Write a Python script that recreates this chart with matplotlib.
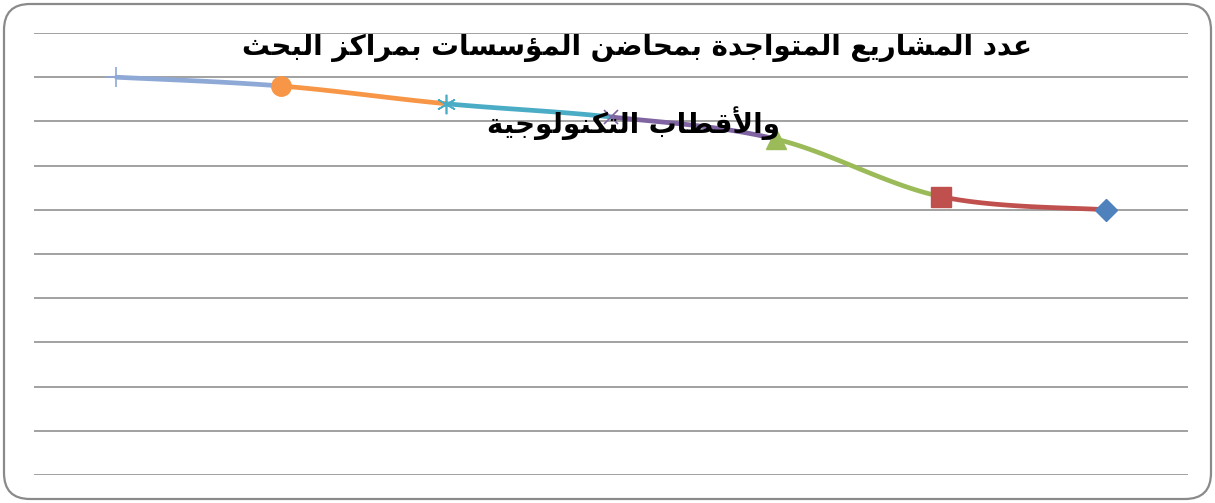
import numpy as np
import matplotlib
matplotlib.use("Agg")
from matplotlib import pyplot as plt
from matplotlib.patches import FancyBboxPatch
from matplotlib.transforms import IdentityTransform

# data: first category is drawn on the right (reversed category axis)
categories = [1, 2, 3, 4, 5, 6, 7]
values = [60, 63, 76, 81, 84, 88, 90]
colors = ["#4F81BD", "#C0504D", "#9BBB59", "#8064A2", "#4BACC6", "#F79646", "#8EA9D6"]
markers = ["D", "s", "^", "x", (6, 2, 0), "o", "+"]
marker_sizes = [11, 14, 14, 10, 14, 14, 14]

title_1 = "عدد المشاريع المتواجدة بمحاضن المؤسسات بمراكز البحث"
title_2 = "والأقطاب التكنولوجية"


# --- tiny Arabic shaper (matplotlib has no shaping) ---
dual = "ئبتثجحخسشصضطظعغفقكلمنهي"
right = "آأؤإاةدذرزوى"
base = {
    "ء": 0xFE80, "آ": 0xFE81, "أ": 0xFE83, "ؤ": 0xFE85, "إ": 0xFE87, "ئ": 0xFE89,
    "ا": 0xFE8D, "ب": 0xFE8F, "ة": 0xFE93, "ت": 0xFE95, "ث": 0xFE99, "ج": 0xFE9D,
    "ح": 0xFEA1, "خ": 0xFEA5, "د": 0xFEA9, "ذ": 0xFEAB, "ر": 0xFEAD, "ز": 0xFEAF,
    "س": 0xFEB1, "ش": 0xFEB5, "ص": 0xFEB9, "ض": 0xFEBD, "ط": 0xFEC1, "ظ": 0xFEC5,
    "ع": 0xFEC9, "غ": 0xFECD, "ف": 0xFED1, "ق": 0xFED5, "ك": 0xFED9, "ل": 0xFEDD,
    "م": 0xFEE1, "ن": 0xFEE5, "ه": 0xFEE9, "و": 0xFEED, "ى": 0xFEEF, "ي": 0xFEF1,
}
lam_alef = {"آ": 0xFEF5, "أ": 0xFEF7, "إ": 0xFEF9, "ا": 0xFEFB}


def shape(text):
    out = []
    i = 0
    n = len(text)
    while i < n:
        c = text[i]
        prev = text[i - 1] if i > 0 else " "
        joins_prev = prev in dual and (c in dual or c in right)
        if c == "ل" and i + 1 < n and text[i + 1] in lam_alef:
            out.append(chr(lam_alef[text[i + 1]] + (1 if joins_prev else 0)))
            i += 2
            continue
        if c not in base:
            out.append(c)
            i += 1
            continue
        nxt = text[i + 1] if i + 1 < n else " "
        joins_next = c in dual and (nxt in dual or nxt in right)
        if joins_prev and joins_next:
            k = 3
        elif joins_next:
            k = 2
        elif joins_prev:
            k = 1
        else:
            k = 0
        out.append(chr(base[c] + k))
        i += 1
    return "".join(out)[::-1]


def smooth(xs, ys, i, steps=40):
    # catmull-rom style bezier like Excel's smoothed line
    p = np.column_stack([xs, ys]).astype(float)
    p0 = p[max(i - 1, 0)]
    p1 = p[i]
    p2 = p[i + 1]
    p3 = p[min(i + 2, len(p) - 1)]
    c1 = p1 + (p2 - p0) / 6
    c2 = p2 - (p3 - p1) / 6
    t = np.linspace(0, 1, steps)[:, None]
    b = (1 - t) ** 3 * p1 + 3 * (1 - t) ** 2 * t * c1 + 3 * (1 - t) * t ** 2 * c2 + t ** 3 * p2
    return b[:, 0], b[:, 1]


W, H = 1215, 503
fig = plt.figure(figsize=(W / 100, H / 100), dpi=100)
ax = fig.add_axes([34 / W, 28 / H, (1188 - 34) / W, (475 - 33) / H])

x = np.arange(len(categories))
for i in range(len(x) - 1):
    sx, sy = smooth(x, values, i)
    ax.plot(sx, sy, color=colors[i + 1], lw=3.4, solid_capstyle="round", zorder=3)
for i in range(len(x)):
    thin = markers[i] in ("x", "+") or isinstance(markers[i], tuple)
    ax.plot(x[i], values[i], marker=markers[i], ms=marker_sizes[i], color=colors[i],
            mec=colors[i], mew=1.2 if thin else 1, zorder=4, linestyle="none")

ax.set_xlim(len(x) - 0.5, -0.5)
ax.set_ylim(0, 100)
ax.set_yticks(np.arange(0, 101, 10))
ax.yaxis.grid(True, color="#9a9a9a", lw=1.3)
ax.set_axisbelow(True)
ax.tick_params(left=False, bottom=False, labelleft=False, labelbottom=False)
for s in ax.spines.values():
    s.set_visible(False)
ax.patch.set_alpha(0)

fig.text(637 / W, 1 - 48 / H, shape(title_1), ha="center", va="center",
         fontsize=20, fontweight="bold", family=["DejaVu Sans"], zorder=10)
fig.text(633 / W, 1 - 123 / H, shape(title_2), ha="center", va="center",
         fontsize=20, fontweight="bold", family=["DejaVu Sans"], zorder=10)

border = FancyBboxPatch((4, 4), W - 8, H - 8, boxstyle="round,pad=0,rounding_size=26",
                        transform=IdentityTransform(), fill=False, ec="#8a8a8a", lw=1.6)
fig.patches.append(border)

fig.savefig("out.png", dpi=100)
